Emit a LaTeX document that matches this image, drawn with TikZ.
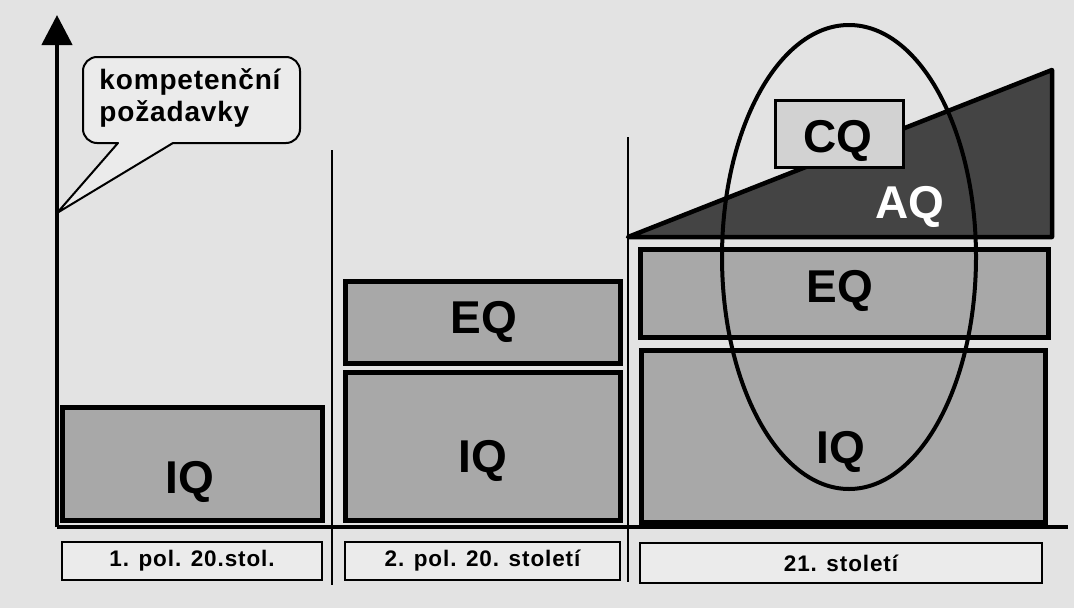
\documentclass[tikz,border=0pt]{standalone}
\usepackage{fontspec}
\setmainfont{Liberation Sans}
\usetikzlibrary{calc,arrows.meta}

\definecolor{paper}{HTML}{E3E3E3}
\definecolor{boxgrey}{HTML}{A8A8A8}
\definecolor{darkwedge}{HTML}{444444}
\definecolor{labelgrey}{HTML}{EBEBEB}
\definecolor{cqgrey}{HTML}{D2D2D2}

\begin{document}
\begin{tikzpicture}[x=1pt, y=-1pt,
	qbox/.style={draw, line width=5pt, fill=boxgrey, inner sep=0pt},
	qtext/.style={anchor=base, font=\fontsize{46}{46}\selectfont\bfseries},
	period/.style={draw, line width=2.5pt, fill=labelgrey, inner sep=0pt, minimum height=38pt, font=\addfontfeature{LetterSpace=4}\fontsize{22.5}{22.5}\selectfont\bfseries},
	axis/.style={line width=4.5pt},
	divider/.style={line width=2pt}]
			\fill[paper] (0,0) rectangle (1074,608);
			\useasboundingbox (0,0) rectangle (1074,608);
			% axes
			\coordinate (origin) at (57,527);
			\coordinate (top) at (57,15);
			\coordinate (xend) at (1068,527);
			\coordinate (tip) at (57,213);
			\draw[axis] (origin) -- (xend);
			\draw[axis, -{Triangle[width=30pt, length=30pt]}] (origin) -- (top);
			\draw[divider] (332,150) -- (332,585);
			\draw[divider] (628,137) -- (628,582);
			% bubble
			\draw[line width=2pt, line join=round, fill=labelgrey] (tip) -- (118,143) [rounded corners=14pt] -- (83,143) -- (83,57) -- (300,57) -- (300,143) [sharp corners] -- (173,143) -- cycle;
			\node[align=left, font=\addfontfeature{LetterSpace=3}\fontsize{28}{32}\selectfont\bfseries] (need) at (190,98) {kompetenční\\požadavky};
			% 1. pol.
			\node[qbox, minimum width=260pt, minimum height=113pt] (iq1) at (192,463.5) {};
			\node[qtext] (iq1t) at (190,493) {IQ};
			\node[period, minimum width=260pt] (p1) at (192,561) {1. pol. 20.stol.};
			% 2. pol.
			\node[qbox, minimum width=275pt, minimum height=82pt] (eq2) at (482.5,322) {};
			\node[qtext] (eq2t) at (484,333) {EQ};
			\node[qbox, minimum width=275pt, minimum height=148pt] (iq2) at (482.5,446) {};
			\node[qtext] (iq2t) at (483,472) {IQ};
			\node[period, minimum width=275pt] (p2) at (482.5,561) {2. pol. 20. století};
			% 21. stol.
			\filldraw[fill=darkwedge, line width=4.5pt, line join=round] (628,237) -- (1052,70) -- (1052,237) -- cycle;
			\node[draw, line width=3pt, fill=cqgrey, minimum width=128pt, minimum height=67pt] (cq) at (839,133.5) {};
			\node[qtext] (cqt) at (838,152) {CQ};
			\node[qtext, white] (aqt) at (910,218) {AQ};
			\node[qbox, minimum width=408pt, minimum height=88pt] (eq3) at (844,293) {};
			\node[qtext] (eq3t) at (840,302) {EQ};
			\node[qbox, minimum width=404pt, minimum height=172pt] (iq3) at (843,436) {};
			\node[qtext] (iq3t) at (841,463) {IQ};
			\node[period, minimum width=402pt, minimum height=40pt] (p3) at (841,563) {21. století};
			\draw[line width=4pt] (849,257) ellipse [x radius=127, y radius=232];
		\end{tikzpicture}
\end{document}
